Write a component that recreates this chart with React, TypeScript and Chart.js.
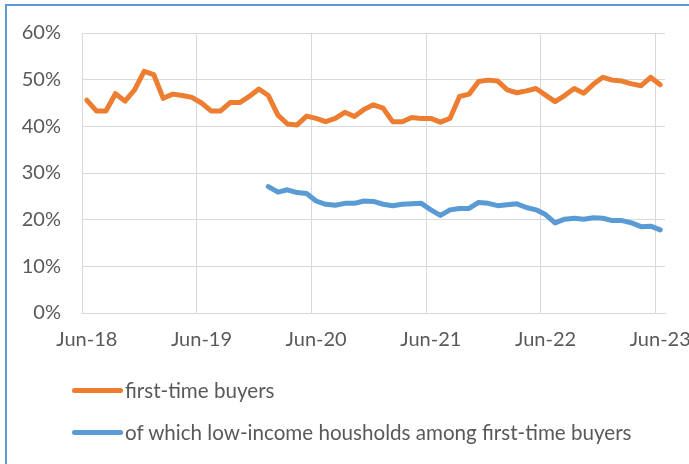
import React, { useEffect, useRef } from 'react';
import { Chart, registerables } from 'chart.js';

Chart.register(...registerables);

const months: string[] = [
  'Jun-18', 'Jul-18', 'Aug-18', 'Sep-18', 'Oct-18', 'Nov-18', 'Dec-18',
  'Jan-19', 'Feb-19', 'Mar-19', 'Apr-19', 'May-19', 'Jun-19', 'Jul-19', 'Aug-19', 'Sep-19', 'Oct-19', 'Nov-19', 'Dec-19',
  'Jan-20', 'Feb-20', 'Mar-20', 'Apr-20', 'May-20', 'Jun-20', 'Jul-20', 'Aug-20', 'Sep-20', 'Oct-20', 'Nov-20', 'Dec-20',
  'Jan-21', 'Feb-21', 'Mar-21', 'Apr-21', 'May-21', 'Jun-21', 'Jul-21', 'Aug-21', 'Sep-21', 'Oct-21', 'Nov-21', 'Dec-21',
  'Jan-22', 'Feb-22', 'Mar-22', 'Apr-22', 'May-22', 'Jun-22', 'Jul-22', 'Aug-22', 'Sep-22', 'Oct-22', 'Nov-22', 'Dec-22',
  'Jan-23', 'Feb-23', 'Mar-23', 'Apr-23', 'May-23', 'Jun-23',
];

const shownTickLabels: string[] = ['Jun-18', 'Jun-19', 'Jun-20', 'Jun-21', 'Jun-22', 'Jun-23'];

const firstTimeBuyers: number[] = [
  45.6, 43.3, 43.3, 47.0, 45.4, 47.8, 51.8, 51.1, 46.0, 46.9, 46.6, 46.2,
  45.0, 43.3, 43.3, 45.1, 45.1, 46.4, 48.0, 46.6, 42.4, 40.5, 40.3, 42.2,
  41.7, 41.0, 41.7, 43.0, 42.1, 43.6, 44.6, 43.9, 41.0, 41.0, 41.9, 41.7,
  41.7, 40.9, 41.7, 46.4, 46.9, 49.6, 49.9, 49.7, 47.8, 47.2, 47.6, 48.1,
  46.7, 45.3, 46.6, 48.1, 47.1, 49.0, 50.5, 49.9, 49.7, 49.1, 48.7, 50.5,
  48.9,
];

const lowIncomeShare: (number | null)[] = [
  null, null, null, null, null, null, null, null, null, null, null, null,
  null, null, null, null, null, null, null,
  27.1, 25.9, 26.4, 25.8, 25.6, 24.0, 23.3, 23.1, 23.5, 23.5, 24.0, 23.9,
  23.3, 23.0, 23.3, 23.4, 23.5, 22.1, 20.9, 22.1, 22.4, 22.4, 23.7, 23.5,
  23.0, 23.2, 23.4, 22.6, 22.1, 21.1, 19.3, 20.1, 20.3, 20.1, 20.4, 20.3,
  19.8, 19.8, 19.3, 18.5, 18.6, 17.8,
];

const yTickValues: number[] = [0, 10, 20, 30, 40, 50, 60];

const seriesNames: string[] = [
  'first-time buyers',
  'of which low-income housholds among first-time buyers',
];
const seriesColors: string[] = ['#ed7d31', '#5b9bd5'];

const FONT = 'Lato, "Open Sans", sans-serif';
const TEXT = '#595959';
const GRID = '#d9d9d9';

export default function App() {
  const ref = useRef<HTMLCanvasElement | null>(null);

  useEffect(() => {
    if (!ref.current) return;
    const chart = new Chart(ref.current, {
      type: 'line',
      data: {
        labels: months,
        datasets: [
          {
            label: seriesNames[0],
            data: firstTimeBuyers,
            borderColor: seriesColors[0],
            backgroundColor: seriesColors[0],
            borderWidth: 5,
            pointRadius: 0,
            tension: 0,
            borderJoinStyle: 'round',
            borderCapStyle: 'round',
          },
          {
            label: seriesNames[1],
            data: lowIncomeShare,
            borderColor: seriesColors[1],
            backgroundColor: seriesColors[1],
            borderWidth: 5,
            pointRadius: 0,
            tension: 0,
            borderJoinStyle: 'round',
            borderCapStyle: 'round',
            spanGaps: false,
          },
        ],
      },
      options: {
        animation: false,
        responsive: false,
        maintainAspectRatio: false,
        layout: { padding: { left: 0, top: 33, right: 24, bottom: 0 } },
        plugins: {
          legend: { display: false },
          tooltip: { enabled: false },
        },
        scales: {
          x: {
            type: 'category',
            offset: true,
            grid: {
              offset: true,
              drawTicks: false,
              lineWidth: 1,
              color: (ctx: any) =>
                ctx.index !== undefined && ctx.index % 12 === 0 ? GRID : 'rgba(0,0,0,0)',
            },
            border: { display: true, color: GRID, width: 1 },
            ticks: {
              autoSkip: false,
              maxRotation: 0,
              minRotation: 0,
              padding: 15,
              color: TEXT,
              font: { family: FONT, size: 20 },
              callback: (_v: any, i: number) =>
                shownTickLabels.includes(months[i]) ? months[i] : '',
            },
            afterFit: (s: any) => {
              s.height = 151;
              s.paddingLeft = 0;
              s.paddingRight = 0;
            },
          },
          y: {
            min: 0,
            max: 60,
            grid: { color: GRID, lineWidth: 1, drawTicks: false },
            border: { display: true, color: GRID, width: 1 },
            afterBuildTicks: (s: any) => {
              s.ticks = yTickValues.map((v) => ({ value: v }));
            },
            ticks: {
              padding: 21,
              color: TEXT,
              font: { family: FONT, size: 20 },
              callback: (v: any) => `${v}%`,
            },
            afterFit: (s: any) => {
              s.width = 82;
              s.paddingTop = 0;
              s.paddingBottom = 0;
            },
          },
        },
      },
    });
    return () => chart.destroy();
  }, []);

  const legendRow = (i: number, centerY: number) => (
    <div
      key={i}
      style={{
        position: 'absolute',
        left: 72,
        top: centerY - 14,
        height: 28,
        display: 'flex',
        alignItems: 'center',
        whiteSpace: 'nowrap',
      }}
    >
      <div
        style={{
          width: 51,
          height: 5,
          borderRadius: 3,
          background: seriesColors[i],
        }}
      />
      <span
        style={{
          marginLeft: 2,
          fontFamily: FONT,
          fontSize: 20.6,
          color: TEXT,
        }}
      >
        {seriesNames[i]}
      </span>
    </div>
  );

  return (
    <div
      style={{
        position: 'fixed',
        left: 0,
        top: 0,
        width: 689,
        height: 464,
        overflow: 'hidden',
        background: '#ffffff',
      }}
    >
      <div
        style={{
          position: 'absolute',
          left: 5,
          top: 4,
          width: 760,
          height: 560,
          border: '2px solid #5b9bd5',
          boxSizing: 'border-box',
        }}
      />
      <canvas
        ref={ref}
        width={689}
        height={464}
        style={{ position: 'absolute', left: 0, top: 0, width: 689, height: 464 }}
      />
      {legendRow(0, 390)}
      {legendRow(1, 432)}
    </div>
  );
}
